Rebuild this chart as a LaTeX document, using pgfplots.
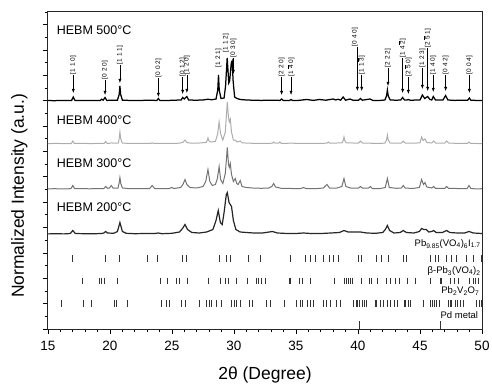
\documentclass[border=0pt]{standalone}
\usepackage{pgfplots}
\pgfplotsset{compat=1.18}
\usepackage{pgfplotstable}
\usepackage{fontspec}
\setmainfont{Liberation Sans}
\usetikzlibrary{arrows.meta}
\newcommand\ob[1]{\vbox{\hrule height .3pt\kern .5pt\hbox{#1}}}

\pgfplotstableread{
x y
15 0.5
15.5 0.3
16 0.6
16.5 0.4
16.9 0.5
17.04 4
17.18 0.5
17.6 0.4
18.2 0.6
18.8 0.5
19.22 0.6
19.33 1.8
19.45 0.8
19.6 3.5
19.74 0.6
20.2 0.7
20.6 0.8
20.74 6.5
20.8 15
20.86 6.5
21.0 0.8
21.5 0.6
22.2 0.5
23.0 0.7
23.78 0.6
23.9 2.5
24.02 0.6
24.6 0.5
25.2 0.8
25.74 1
25.86 3.5
25.98 2
26.2 4.5
26.34 1
26.9 0.8
27.5 1
27.9 1.8
28.2 1.2
28.55 2
28.69 11
28.75 26
28.81 11
28.95 2.5
29.2 3
29.32 15
29.45 43
29.58 18
29.65 20
29.78 38
29.85 40
29.93 20
30.05 4
30.25 2.5
30.5 1.5
31 1
31.5 0.8
32.2 0.6
33 0.8
33.72 0.6
33.84 2
33.96 0.6
34.48 0.5
34.6 1.5
34.72 0.5
35.2 0.6
35.86 1.5
36.4 0.6
36.88 1.5
37.4 0.8
38.0 2
38.2 1
38.4 1.8
38.6 0.8
38.8 4
39.0 0.8
39.35 2
39.6 0.7
40.05 0.8
40.2 2.5
40.35 0.8
40.97 2
41.2 0.6
41.8 0.6
42.17 1
42.3 5
42.37 11
42.44 5
42.6 1
43.1 0.8
43.45 1
43.6 3.5
43.75 1
43.95 1
44.06 1.5
44.2 0.8
45.0 1
45.19 6
45.38 2.5
45.62 4.5
45.8 1.5
45.95 1
46.07 4.5
46.25 1
46.85 1
47.07 5.5
47.25 1
47.8 0.6
48.4 0.8
48.85 0.8
48.98 3
49.1 0.8
49.5 0.6
50 0.5
}\tFive

\pgfplotstableread{
x y
15 0.4
15.6 0.6
16.3 0.4
16.88 0.5
17.0 3
17.12 0.5
17.8 0.6
18.5 0.4
19.2 0.7
19.53 0.6
19.65 2.5
19.77 0.6
19.98 0.7
20.1 1.2
20.3 0.8
20.68 1
20.74 5.5
20.8 12
20.86 5.5
20.98 1
21.6 0.5
22.4 0.6
23.28 0.5
23.4 1.2
23.52 0.5
24.3 0.6
25.0 0.6
25.6 0.8
25.9 1.8
26.05 4
26.2 1.6
26.5 0.8
27.2 1
27.75 1.5
27.84 3.5
27.9 6
27.96 3.5
28.1 2
28.5 2.5
28.68 10
28.8 22
28.92 10
29.1 4
29.3 12
29.46 42
29.56 26
29.62 22
29.7 25
29.8 12
29.95 4
30.1 4
30.25 2
30.5 3
30.65 1.2
31.2 0.8
32.0 0.6
32.7 0.6
33.1 0.8
33.2 2
33.3 0.8
33.6 0.8
33.7 2
33.82 0.6
34.6 0.8
35.5 0.6
36.4 0.6
37.1 0.6
37.5 0.9
37.6 2
37.7 0.9
38.3 1
38.72 1.2
38.81 3.5
38.87 7
38.93 3.5
39.05 1.2
39.6 1
40.05 1
40.2 3
40.35 1
40.9 0.8
41.5 0.6
42.17 0.8
42.3 4
42.37 9
42.44 4
42.6 0.8
43.2 0.8
43.5 1
43.65 3
43.8 1
44.5 0.8
45.0 1.2
45.13 7
45.25 3.5
45.4 5
45.55 1.5
45.95 1
46.1 3
46.25 1
47.0 1
47.15 3
47.3 1
48.0 0.6
48.83 0.6
48.95 2
49.07 0.6
49.6 0.5
50 0.4
}\tFour

\pgfplotstableread{
x y
15 0.6
15.5 0.8
16.2 0.6
16.85 0.8
17.0 4
17.15 0.8
17.7 0.9
18.4 0.7
19.0 1
19.5 1
19.65 3
19.8 1.2
19.95 1.4
20.1 4
20.25 1.4
20.65 1.5
20.73 6
20.8 12
20.87 6
21.0 1.5
21.6 0.8
22.3 1
23.2 1
23.4 4
23.6 1
24.3 0.8
24.8 1
24.97 2
25.15 1
25.7 2
25.88 5
26.05 10
26.2 5
26.45 2
27.0 1.5
27.5 3
27.72 8
27.9 20
28.05 8
28.25 4
28.5 5
28.66 11
28.8 23
28.92 10
29.1 6
29.3 16
29.46 42
29.56 25
29.62 22
29.7 26
29.8 15
29.95 8
30.1 11
30.22 6
30.33 5
30.5 9
30.65 3
31.0 2
31.5 1.5
32.2 1.2
32.8 1.5
33.05 3
33.2 6
33.35 2.5
33.8 1.2
34.6 1
35.4 1
35.6 2
35.8 1
36.6 0.8
37.2 1.5
37.5 5
37.7 1.5
38.3 1.5
38.7 3
38.87 11
39.02 3
39.4 1.5
40.05 1.5
40.2 3
40.35 1.5
40.85 1.5
41.0 3
41.15 1
41.8 1
42.2 2
42.37 11
42.52 2
43.1 1.2
43.5 1.5
43.65 4
43.8 1.5
44.4 1
44.95 2
45.13 10
45.28 5
45.4 7
45.55 2.5
45.95 1.5
46.1 3
46.25 1.2
47.0 1.2
47.15 3
47.3 1.2
48.0 1
48.8 1
48.95 4
49.1 1
49.6 0.6
50 0.8
}\tThree

\pgfplotstableread{
x y
15 0.6
15.6 0.8
16.3 0.6
16.8 1
17.0 4
17.2 1
17.9 0.8
18.6 0.7
19.3 1
19.5 1.5
19.65 3
19.8 1.5
20.3 1.2
20.6 3
20.8 12
21.0 3
21.3 1.2
22.0 0.8
22.8 1
23.6 1
23.9 1.5
24.2 0.8
25.0 1.2
25.6 2.5
25.85 6
26.05 10
26.25 5
26.6 2
27.2 1.5
27.8 2.5
28.3 5
28.55 14
28.73 24
28.9 12
29.05 10
29.2 22
29.38 40
29.46 42
29.6 32
29.8 28
29.95 14
30.15 5
30.5 2.5
31.0 2
31.6 1.5
32.3 1.5
33.1 3
33.5 1.5
34.3 1
35.0 1
35.6 1.5
36.2 1
37.0 1
37.8 1.5
38.5 2
38.87 4
39.2 2.5
39.7 2.5
40.2 2.5
40.7 1.5
41.4 1.2
42.0 2
42.2 5
42.37 9
42.55 4
42.9 1.5
43.4 2
43.65 4
43.9 2
44.5 1.5
44.95 3
45.13 6
45.3 5
45.5 5
45.7 2.5
45.95 3
46.1 4
46.3 2
46.8 2
47.15 4
47.4 2
48.0 1.5
48.6 1.5
48.95 3
49.3 1.5
50 1
}\tTwo

\begin{document}
\begin{tikzpicture}
\begin{axis}[
  width=434pt, height=317pt, scale only axis,
  xmin=15, xmax=50, ymin=0, ymax=317,
  axis line style={line width=1pt, black!85},
  xtick={15,20,...,50}, minor x tick num=4,
  ytick={0,25.36,...,317}, minor y tick num=1, yticklabels={},
  tick align=outside, xtick pos=bottom, ytick pos=left,
  major tick length=5pt, minor tick length=3pt,
  tick style={line width=0.8pt, black},
  xticklabel style={font=\fontsize{13.5}{14}\selectfont, yshift=-4pt},
  /pgf/number format/assume math mode=true,
  clip=false,
]
\addplot[black, line width=1.25pt] table[x=x, y expr=\thisrow{y}+228] {\tFive};
\addplot[black!32, line width=1pt] table[x=x, y expr=\thisrow{y}+185] {\tFour};
\addplot[black!55, line width=1pt] table[x=x, y expr=\thisrow{y}+139.5] {\tThree};
\addplot[black!85, line width=1.2pt] table[x=x, y expr=\thisrow{y}+94.5] {\tTwo};

% reference patterns
\addplot[only marks, mark=|, mark size=3.3pt, mark options={line width=0.7pt, black!80}] coordinates {
(16.99,70.5)(19.60,70.5)(20.75,70.5)(23.01,70.5)(23.82,70.5)(25.86,70.5)(26.13,70.5)(28.82,70.5)(29.41,70.5)(29.73,70.5)(31.15,70.5)(32.10,70.5)
(34.52,70.5)(35.73,70.5)(36.19,70.5)(36.59,70.5)(37.2,70.5)(37.69,70.5)(38.0,70.5)(38.41,70.5)(40.02,70.5)(40.3,70.5)(41.5,70.5)(41.9,70.5)(42.44,70.5)(43.65,70.5)(43.93,70.5)(45.81,70.5)(46.26,70.5)(46.48,70.5)(47.15,70.5)(47.56,70.5)(47.9,70.5)(48.77,70.5)(49.3,70.5)(49.95,70.5)};
\addplot[only marks, mark=|, mark size=3.3pt, mark options={line width=0.7pt, black!80}] coordinates {
(17.8,48)(19.14,48)(19.33,48)(19.52,48)(20.59,48)(24.03,48)(24.62,48)(25.32,48)(25.59,48)(26.26,48)(27.93,48)(28.87,48)(29.27,48)(29.54,48)(30.16,48)(31.08,48)(31.77,48)(31.96,48)(32.18,48)(32.5,48)
(34.46,48)(34.57,48)(35.27,48)(35.54,48)(36.13,48)(38.06,48)(38.87,48)(39.03,48)(39.22,48)(39.41,48)(39.57,48)(40.3,48)(40.89,48)(41.1,48)(41.56,48)(42.31,48)(42.58,48)(42.98,48)(43.33,48)(43.98,48)(44.6,48)(45.86,48)(46.61,48)(46.75,48)(47.42,48)(47.74,48)(48.09,48)(48.98,48)(49.3,48)(49.44,48)(49.7,48)};
\addplot[only marks, mark=|, mark size=3.3pt, mark options={line width=0.7pt, black!80}] coordinates {
(16.1,25.5)(17.85,25.5)(18.52,25.5)(20.32,25.5)(20.48,25.5)(21.4,25.5)(24.17,25.5)(24.52,25.5)(24.78,25.5)(25.78,25.5)(26.05,25.5)(27.2,25.5)(27.8,25.5)(28.0,25.5)(28.2,25.5)(28.6,25.5)(29.0,25.5)(29.81,25.5)(30.0,25.5)(30.22,25.5)(30.48,25.5)(31.24,25.5)(31.5,25.5)(32.64,25.5)(32.96,25.5)
(34.03,25.5)(35.0,25.5)(35.32,25.5)(35.54,25.5)(35.91,25.5)(36.19,25.5)(36.4,25.5)(37.2,25.5)(37.48,25.5)(37.74,25.5)(38.28,25.5)(38.55,25.5)(39.62,25.5)(39.84,25.5)(39.95,25.5)(40.11,25.5)(40.38,25.5)(40.48,25.5)(40.7,25.5)(41.37,25.5)(41.5,25.5)(41.77,25.5)(42.04,25.5)(42.37,25.5)(42.64,25.5)(42.9,25.5)(43.17,25.5)(43.71,25.5)(43.85,25.5)(44.06,25.5)(44.25,25.5)(45.27,25.5)(45.81,25.5)(46.0,25.5)(46.13,25.5)(46.35,25.5)(46.56,25.5)(47.28,25.5)(47.42,25.5)(47.56,25.5)(47.82,25.5)(48.01,25.5)(48.28,25.5)(48.49,25.5)(49.57,25.5)(49.78,25.5)(49.97,25.5)};
\addplot[only marks, mark=|, mark size=3.9pt, mark options={line width=0.7pt, black!80}] coordinates {(40.12,3.9)(46.66,3.9)};

% sample labels
\begin{scope}[every node/.style={font=\fontsize{12.5}{13}\selectfont, anchor=west, inner sep=0pt}]
\node at (axis cs:15.7,299) {HEBM 500°C};
\node at (axis cs:15.7,209) {HEBM 400°C};
\node at (axis cs:15.7,166) {HEBM 300°C};
\node at (axis cs:15.7,122) {HEBM 200°C};
\end{scope}
\begin{scope}[every node/.style={font=\fontsize{9.5}{10}\selectfont, anchor=east, inner sep=0pt}]
\node at (axis cs:49.9,85) {Pb\textsubscript{9.85}(VO\textsubscript{4})\textsubscript{6}I\textsubscript{1.7}};
\node at (axis cs:49.9,58) {β-Pb\textsubscript{3}(VO\textsubscript{4})\textsubscript{2}};
\node at (axis cs:49.8,38) {Pb\textsubscript{2}V\textsubscript{2}O\textsubscript{7}};
\node at (axis cs:49.7,14) {Pd metal};
\end{scope}

% Miller index annotations
\begin{scope}[every node/.style={font=\fontsize{6.5}{7}\selectfont, rotate=90, anchor=west, inner sep=0.6pt},
  arr/.style={-{Latex[length=4pt,width=3pt]}, line width=0.5pt}]
\draw[arr] (axis cs:17.04,254) -- (axis cs:17.04,236); \node at (axis cs:17.04,254) {[1 1 0]};
\draw[arr] (axis cs:19.6,249) -- (axis cs:19.6,234); \node at (axis cs:19.6,249) {[0 2 0]};
\draw[arr] (axis cs:20.8,264) -- (axis cs:20.8,246); \node at (axis cs:20.8,264) {[1 1 1]};
\draw[arr] (axis cs:23.9,251) -- (axis cs:23.9,232); \node at (axis cs:23.9,251) {[0 0 2]};
\draw[arr] (axis cs:25.86,252) -- (axis cs:25.86,235); \node at (axis cs:25.86,252) {[0 1 2]};
\draw[arr] (axis cs:26.2,254) -- (axis cs:26.2,236); \node at (axis cs:26.2,254) {[1 2 0]};
\node at (axis cs:28.75,261) {[1 2 1]};
\node at (axis cs:29.35,276) {[1 1 2]};
\draw[arr] (axis cs:29.95,271) -- (axis cs:29.95,255); \node at (axis cs:29.95,271) {[0 3 0]};
\draw[arr] (axis cs:33.84,252) -- (axis cs:33.84,234); \node at (axis cs:33.84,252) {[2 2 0]};
\draw[arr] (axis cs:34.6,252) -- (axis cs:34.6,234); \node at (axis cs:34.6,252) {[1 \ob{4} 0]};
\draw[arr] (axis cs:39.95,282) -- (axis cs:39.95,238); \node at (axis cs:39.75,282) {[0 4 0]};
\draw[arr] (axis cs:40.3,254) -- (axis cs:40.3,238); \node at (axis cs:40.3,254) {[1 1 \ob{3}]};
\draw[arr] (axis cs:42.42,261) -- (axis cs:42.42,243); \node at (axis cs:42.42,261) {[2 2 2]};
\draw[arr] (axis cs:43.6,271) -- (axis cs:43.6,236); \node at (axis cs:43.6,271) {[1 4 \ob{2}]};
\draw[arr] (axis cs:44.06,252) -- (axis cs:44.06,235); \node at (axis cs:44.06,252) {[2 \ob{5} 0]};
\draw[arr] (axis cs:45.19,261) -- (axis cs:45.19,240); \node at (axis cs:45.19,261) {[1 2 3]};
\draw[arr] (axis cs:45.62,281) -- (axis cs:45.62,238); \node at (axis cs:45.62,281) {[2 \ob{5} 1]};
\draw[arr] (axis cs:46.07,254) -- (axis cs:46.07,237); \node at (axis cs:46.07,254) {[1 4 0]};
\draw[arr] (axis cs:47.07,254) -- (axis cs:47.07,238); \node at (axis cs:47.07,254) {[0 4 2]};
\draw[arr] (axis cs:48.98,254) -- (axis cs:48.98,236); \node at (axis cs:48.98,254) {[0 0 4]};
\end{scope}

\node[rotate=90, font=\fontsize{17.5}{18}\selectfont] at (rel axis cs:-0.066,0.42) {Normalized Intensity (a.u.)};
\node[font=\fontsize{17.5}{18}\selectfont, yshift=-46pt] at (rel axis cs:0.5,0) {2θ (Degree)};
\end{axis}
\pgfresetboundingbox
\path[use as bounding box] ([shift={(-48pt,-54pt)}]current axis.south west) rectangle ([shift={(10pt,12pt)}]current axis.north east);
\end{tikzpicture}
\end{document}
